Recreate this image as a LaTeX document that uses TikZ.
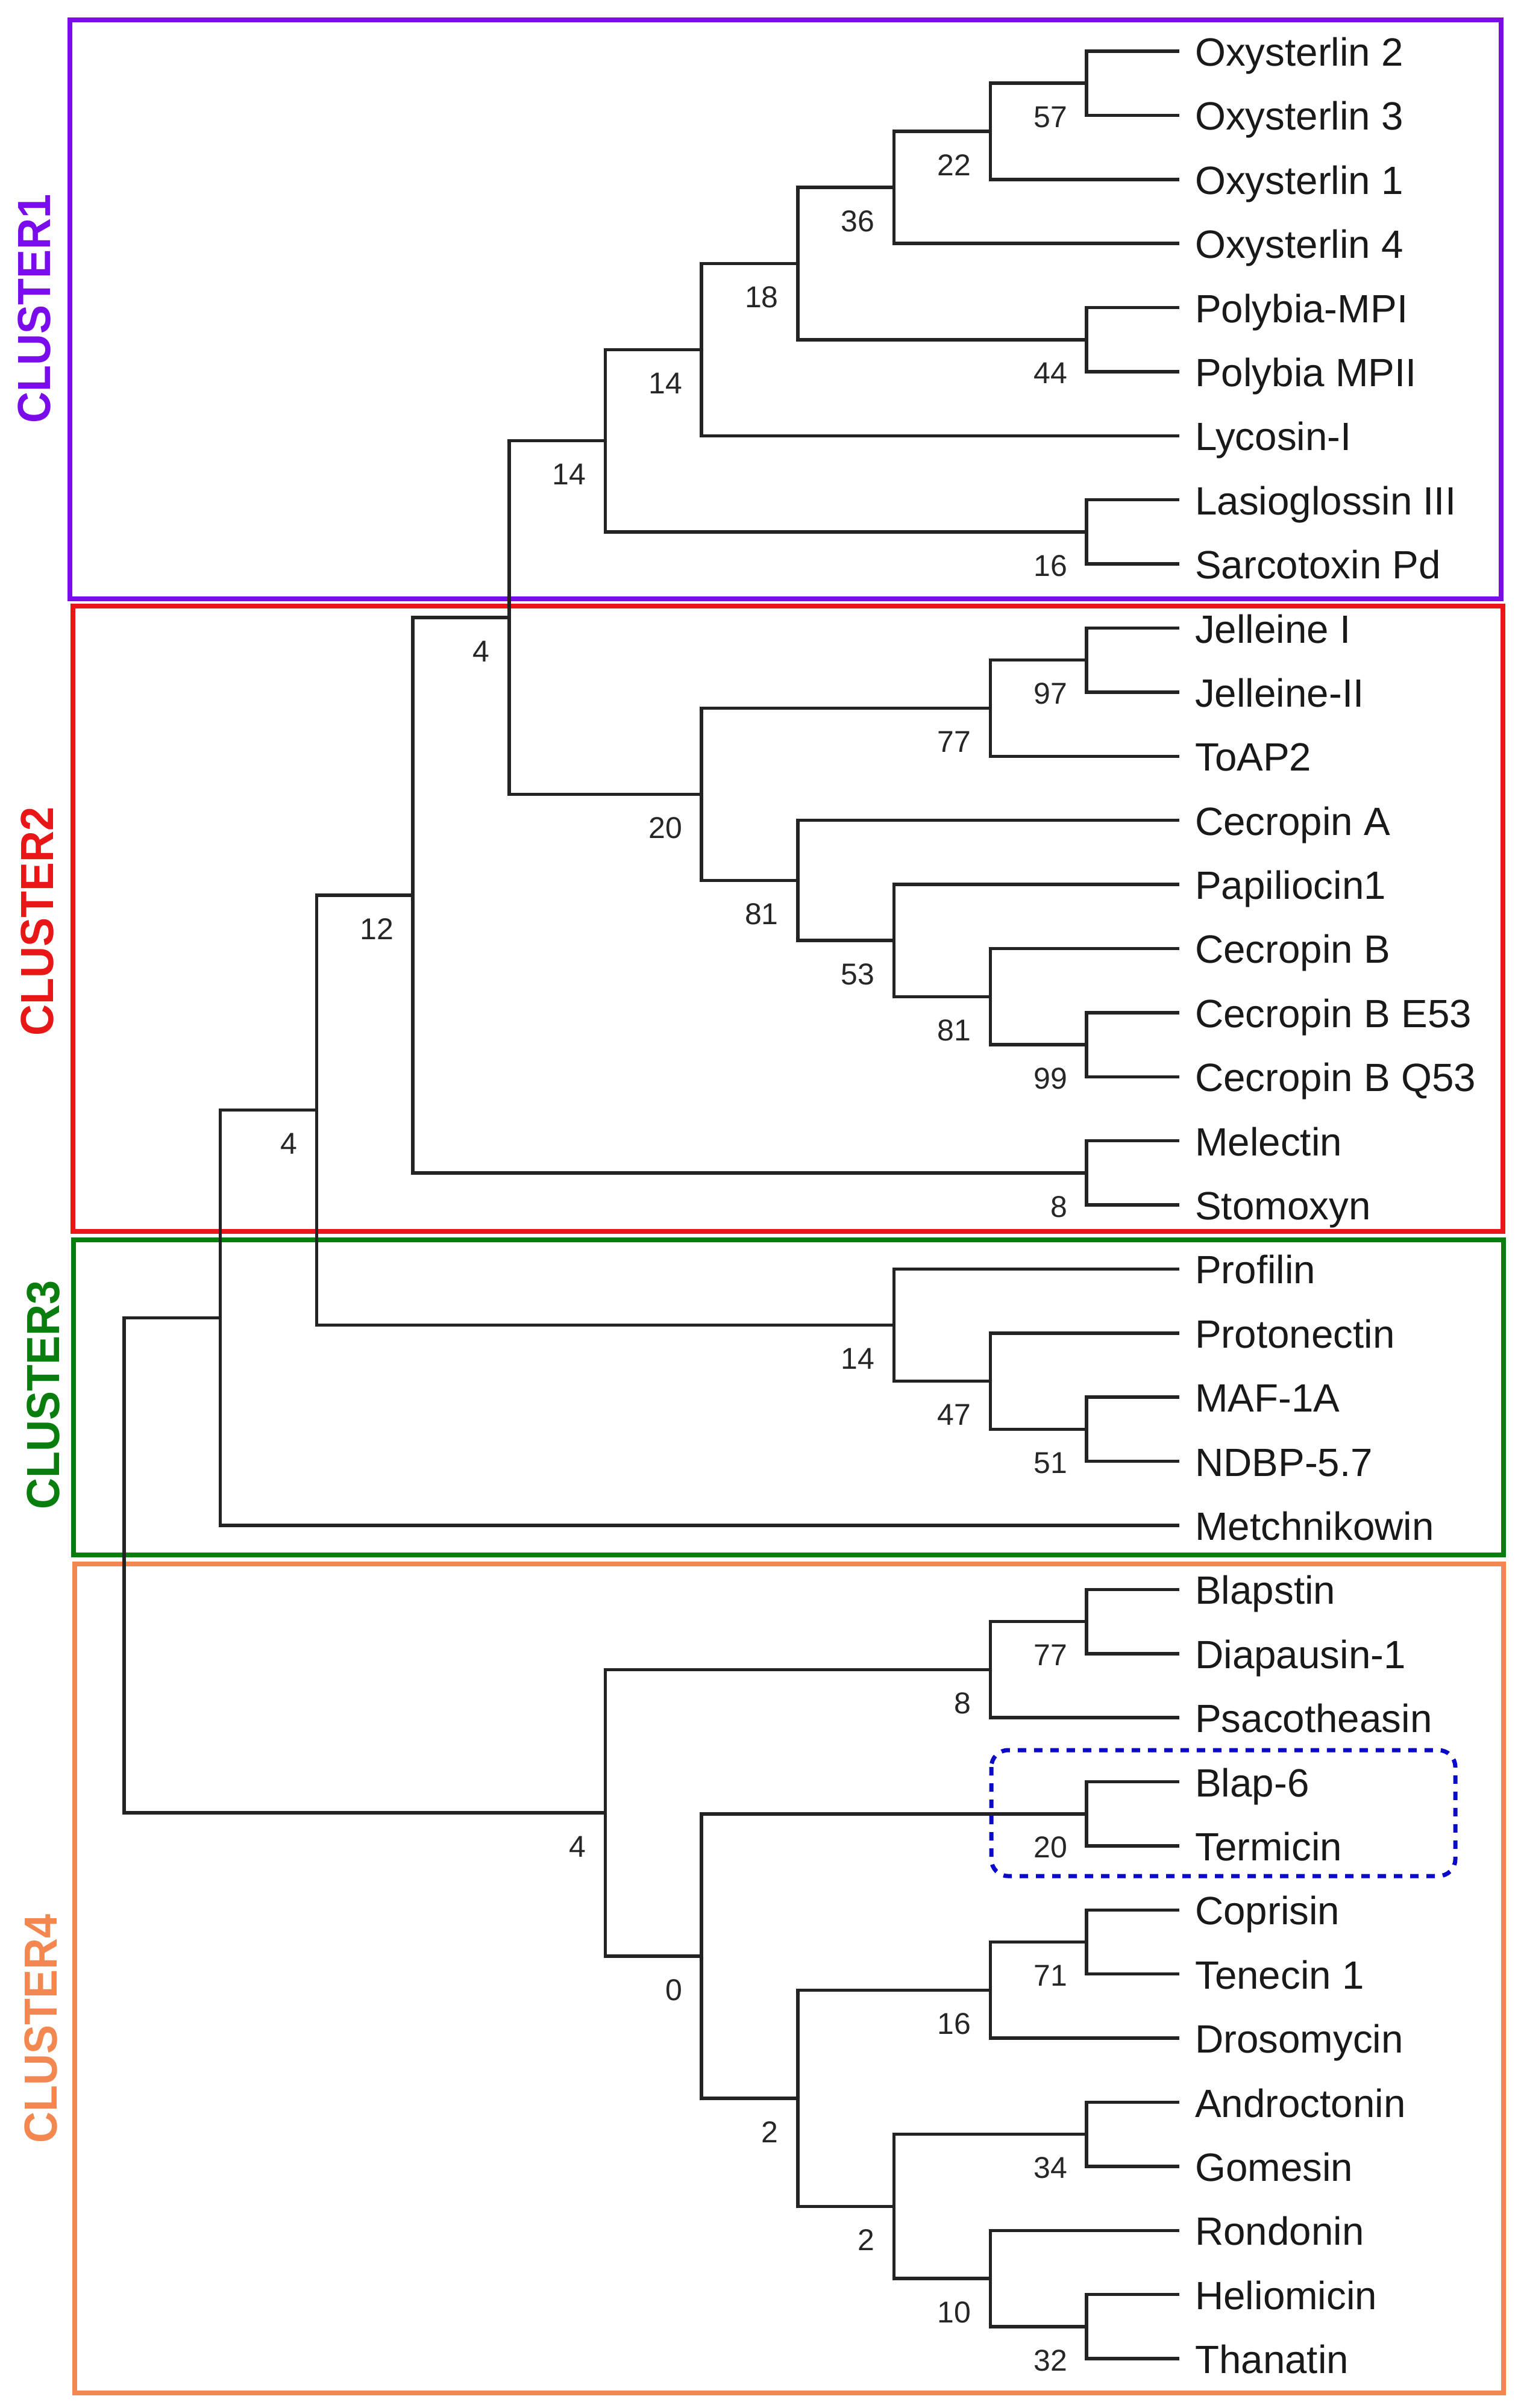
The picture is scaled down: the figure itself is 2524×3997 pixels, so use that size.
\documentclass[tikz,border=0pt]{standalone}
\usepackage{fontspec}
\setmainfont{Liberation Sans}
\usetikzlibrary{calc}
\definecolor{cpurple}{RGB}{122,12,235}
\definecolor{cred}{RGB}{232,22,22}
\definecolor{cgreen}{RGB}{10,125,15}
\definecolor{corange}{RGB}{242,135,80}
\definecolor{cblue}{RGB}{10,10,200}
\definecolor{branchcol}{RGB}{35,35,35}
\newcommand\mknode[3]{\coordinate (#1) at ({1803-159.7*(#2-1)},{85+106.39*#3});}
\newcommand\elbow[3]{\draw[branch] (#1) -| (#2) |- (#3);}
\newcommand\blab[2]{\node[bs] (lab#1) at ($(#1)+(-32,56)$) {#2};}
\begin{document}
\begin{tikzpicture}[x=1pt,y=-1pt,
  branch/.style={draw=branchcol,line width=5.5pt,line join=miter},
  cbox/.style={line width=8pt},
  leaf/.style={anchor=base west,inner sep=0pt,font=\fontsize{65.5}{66}\selectfont,text=black!90},
  bs/.style={anchor=east,inner sep=0pt,font=\fontsize{50}{50}\selectfont,text=black!85},
  clabel/.style={rotate=90,inner sep=0pt,font=\fontsize{77}{77}\selectfont\bfseries}]
\useasboundingbox (0,0) rectangle (2524,3997);
% cluster boxes
\draw[cbox,cpurple] (116,33) rectangle (2491,994);
\draw[cbox,cred] (121,1006) rectangle (2494,2044);
\draw[cbox,cgreen] (122,2058) rectangle (2495,2581);
\draw[cbox,corange] (124,2596) rectangle (2495,3972);
\node[clabel,text=cpurple] (cl1) at (57,512) {\scalebox{0.935}[1]{CLUSTER1}};
\node[clabel,text=cred] (cl2) at (62,1529) {\scalebox{0.935}[1]{CLUSTER2}};
\node[clabel,text=cgreen] (cl3) at (72,2315) {\scalebox{0.935}[1]{CLUSTER3}};
\node[clabel,text=corange] (cl4) at (68,3367) {\scalebox{0.935}[1]{CLUSTER4}};
% leaves
\foreach \nm [count=\i from 0] in {Oxysterlin 2,Oxysterlin 3,Oxysterlin 1,Oxysterlin 4,Polybia-MPI,Polybia MPII,Lycosin-I,Lasioglossin III,Sarcotoxin Pd,Jelleine I,Jelleine-II,ToAP2,Cecropin A,Papiliocin1,Cecropin B,Cecropin B E53,Cecropin B Q53,Melectin,Stomoxyn,Profilin,Protonectin,MAF-1A,NDBP-5.7,Metchnikowin,Blapstin,Diapausin-1,Psacotheasin,Blap-6,Termicin,Coprisin,Tenecin 1,Drosomycin,Androctonin,Gomesin,Rondonin,Heliomicin,Thanatin}{
  \coordinate (L\i) at (1957,{85+106.39*\i});
  \node[leaf] (t\i) at ($(L\i)+(26,24.5)$) {\nm};
}
% internal nodes
\mknode{Na}{1}{0.5}
\mknode{Nb}{2}{1.25}
\mknode{Nc}{3}{2.125}
\mknode{Nd}{1}{4.5}
\mknode{Ne}{4}{3.3125}
\mknode{Nf}{5}{4.65625}
\mknode{Ng}{1}{7.5}
\mknode{Nh}{6}{6.078125}
\mknode{Ni}{1}{9.5}
\mknode{Nj}{2}{10.25}
\mknode{Nk}{1}{15.5}
\mknode{Nl}{2}{14.75}
\mknode{Nm}{3}{13.875}
\mknode{Nn}{4}{12.9375}
\mknode{No}{5}{11.59375}
\mknode{Np}{7}{8.8359375}
\mknode{Nq}{1}{17.5}
\mknode{Nr}{8}{13.16796875}
\mknode{Ns}{1}{21.5}
\mknode{Nt}{2}{20.75}
\mknode{Nu}{3}{19.875}
\mknode{Nv}{9}{16.521484375}
\mknode{Nw}{10}{19.7607421875}
\mknode{Nxa}{1}{24.5}
\mknode{Nxb}{2}{25.25}
\mknode{Nxc}{1}{27.5}
\mknode{Nxd}{1}{29.5}
\mknode{Nxe}{2}{30.25}
\mknode{Nxf}{1}{32.5}
\mknode{Nxg}{1}{35.5}
\mknode{Nxh}{2}{34.75}
\mknode{Nxi}{3}{33.625}
\mknode{Nxj}{4}{31.9375}
\mknode{Nxk}{5}{29.71875}
\mknode{Nxl}{6}{27.484375}
\mknode{Nroot}{11}{23.62255859}
% branches
\elbow{L0}{Na}{L1}
\elbow{Na}{Nb}{L2}
\elbow{Nb}{Nc}{L3}
\elbow{L4}{Nd}{L5}
\elbow{Nc}{Ne}{Nd}
\elbow{Ne}{Nf}{L6}
\elbow{L7}{Ng}{L8}
\elbow{Nf}{Nh}{Ng}
\elbow{L9}{Ni}{L10}
\elbow{Ni}{Nj}{L11}
\elbow{L15}{Nk}{L16}
\elbow{L14}{Nl}{Nk}
\elbow{L13}{Nm}{Nl}
\elbow{L12}{Nn}{Nm}
\elbow{Nj}{No}{Nn}
\elbow{Nh}{Np}{No}
\elbow{L17}{Nq}{L18}
\elbow{Np}{Nr}{Nq}
\elbow{L21}{Ns}{L22}
\elbow{L20}{Nt}{Ns}
\elbow{L19}{Nu}{Nt}
\elbow{Nr}{Nv}{Nu}
\elbow{Nv}{Nw}{L23}
\elbow{L24}{Nxa}{L25}
\elbow{Nxa}{Nxb}{L26}
\elbow{L27}{Nxc}{L28}
\elbow{L29}{Nxd}{L30}
\elbow{Nxd}{Nxe}{L31}
\elbow{L32}{Nxf}{L33}
\elbow{L35}{Nxg}{L36}
\elbow{L34}{Nxh}{Nxg}
\elbow{Nxf}{Nxi}{Nxh}
\elbow{Nxe}{Nxj}{Nxi}
\elbow{Nxc}{Nxk}{Nxj}
\elbow{Nxb}{Nxl}{Nxk}
\elbow{Nw}{Nroot}{Nxl}
% bootstrap values
\blab{Na}{57}
\blab{Nb}{22}
\blab{Nc}{36}
\blab{Nd}{44}
\blab{Ne}{18}
\blab{Nf}{14}
\blab{Ng}{16}
\blab{Nh}{14}
\blab{Ni}{97}
\blab{Nj}{77}
\blab{Nk}{99}
\blab{Nl}{81}
\blab{Nm}{53}
\blab{Nn}{81}
\blab{No}{20}
\blab{Np}{4}
\blab{Nq}{8}
\blab{Nr}{12}
\blab{Ns}{51}
\blab{Nt}{47}
\blab{Nu}{14}
\blab{Nv}{4}
\blab{Nxa}{77}
\blab{Nxb}{8}
\blab{Nxc}{20}
\blab{Nxd}{71}
\blab{Nxe}{16}
\blab{Nxf}{34}
\blab{Nxg}{32}
\blab{Nxh}{10}
\blab{Nxi}{2}
\blab{Nxj}{2}
\blab{Nxk}{0}
\blab{Nxl}{4}
% highlighted pair
\draw[cblue,line width=7pt,dash pattern=on 14pt off 13pt,rounded corners=28pt] (1645,2905) rectangle (2415,3114);
\end{tikzpicture}
\end{document}
